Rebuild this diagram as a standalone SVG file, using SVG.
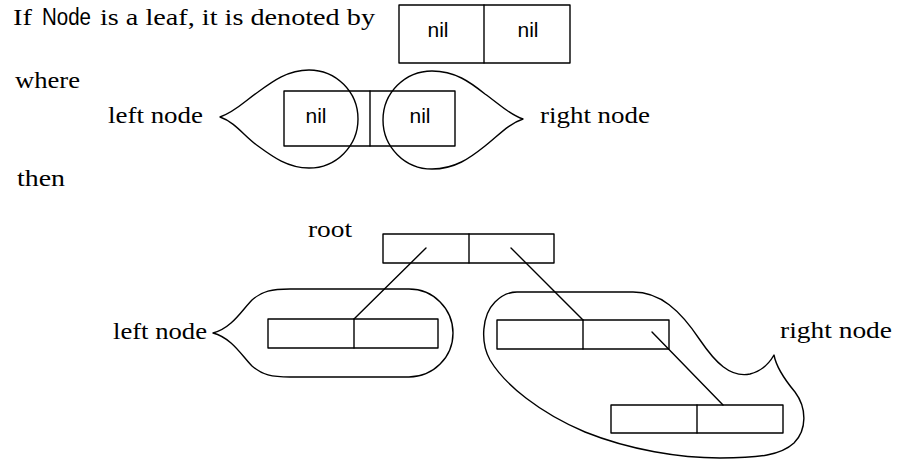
<svg xmlns="http://www.w3.org/2000/svg" width="899" height="459" viewBox="0 0 899 459">
<style>
.bg{fill:#fff}
.ln{fill:none;stroke:#000;stroke-width:1.4;stroke-linejoin:round;stroke-linecap:round}
.serif{font-family:"Liberation Serif","Times New Roman",serif;font-size:24px;fill:#000}
.sans{font-family:"Liberation Sans",Arial,sans-serif;font-size:23px;fill:#000}
.nil{font-family:"Liberation Sans",Arial,sans-serif;font-size:21px;fill:#000;text-anchor:middle}
</style>
<rect class="bg" x="0" y="0" width="899" height="459"/>

<g id="caption">
<text class="serif" x="13" y="25" textLength="19" lengthAdjust="spacingAndGlyphs">If</text>
<text class="sans" x="42" y="25" textLength="49" lengthAdjust="spacingAndGlyphs">Node</text>
<text class="serif" x="100" y="25" textLength="275" lengthAdjust="spacingAndGlyphs">is a leaf, it is denoted by</text>
<text class="serif" x="15" y="88" textLength="65" lengthAdjust="spacingAndGlyphs">where</text>
<text class="serif" x="17" y="186" textLength="48" lengthAdjust="spacingAndGlyphs">then</text>
</g>

<g id="leaf">
<rect class="ln" x="399" y="5" width="171" height="58"/>
<line class="ln" x1="484" y1="5" x2="484" y2="63"/>
<text class="nil" x="438" y="37">nil</text>
<text class="nil" x="528" y="37">nil</text>
</g>

<g id="where-node">
<rect class="ln" x="284" y="91" width="171" height="55"/>
<line class="ln" x1="370" y1="91" x2="370" y2="146"/>
<text class="nil" x="316" y="123">nil</text>
<text class="nil" x="420" y="123">nil</text>
</g>

<g id="where-left-lobe">
<path class="ln" d="M220,117 C235,112 245,101 258,92 C273,81 288,70 309,70 A49,49 0 0 1 309,168 C288,168 273,157 258,146 C245,137 235,122 220,117 Z"/>
<text class="serif" x="108" y="123" textLength="95" lengthAdjust="spacingAndGlyphs">left node</text>
</g>

<g id="where-right-lobe">
<path class="ln" d="M523,119 C508,114 498,103 485,94 C470,82 455,71 432,71 A49,49 0 0 0 432,169 C455,169 470,158 485,146 C498,136 508,124 523,119 Z"/>
<text class="serif" x="540" y="123" textLength="110" lengthAdjust="spacingAndGlyphs">right node</text>
</g>

<g id="root">
<text class="serif" x="308" y="237" textLength="44" lengthAdjust="spacingAndGlyphs">root</text>
<rect class="ln" x="383" y="234" width="171" height="29"/>
<line class="ln" x1="469" y1="234" x2="469" y2="263"/>
</g>

<g id="left-node">
<path class="ln" d="M213,333 C232,328 242,310 252,300 C262,291 272,289 290,289 L409,289 A44,44 0 0 1 409,377 L290,377 C272,377 262,375 252,366 C242,356 232,338 213,333 Z"/>
<rect class="ln" x="268" y="319" width="170" height="29"/>
<line class="ln" x1="354" y1="319" x2="354" y2="348"/>
<text class="serif" x="113" y="339" textLength="94" lengthAdjust="spacingAndGlyphs">left node</text>
</g>

<g id="right-node">
<path class="ln" d="M517,292 L633,292 C660,292 680,310 700,340 C715,362 730,378 750,374 C762,371 770,362 774,355 C776,366 785,380 795,392 C807,408 807,430 794,443 C781,455 760,458 720,458 C680,458 630,450 585,432 C540,413 505,385 490,360 C480,342 482,315 495,302 C502,295 510,292 517,292 Z"/>
<rect class="ln" x="497" y="320" width="172" height="29"/>
<line class="ln" x1="583" y1="320" x2="583" y2="349"/>
<rect class="ln" x="611" y="405" width="172" height="28"/>
<line class="ln" x1="697" y1="405" x2="697" y2="433"/>
<text class="serif" x="780" y="338" textLength="112" lengthAdjust="spacingAndGlyphs">right node</text>
</g>

<g id="connectors">
<line class="ln" x1="426" y1="248" x2="354" y2="319"/>
<line class="ln" x1="511" y1="248" x2="583" y2="320"/>
<line class="ln" x1="652" y1="332" x2="723" y2="405"/>
</g>
</svg>
